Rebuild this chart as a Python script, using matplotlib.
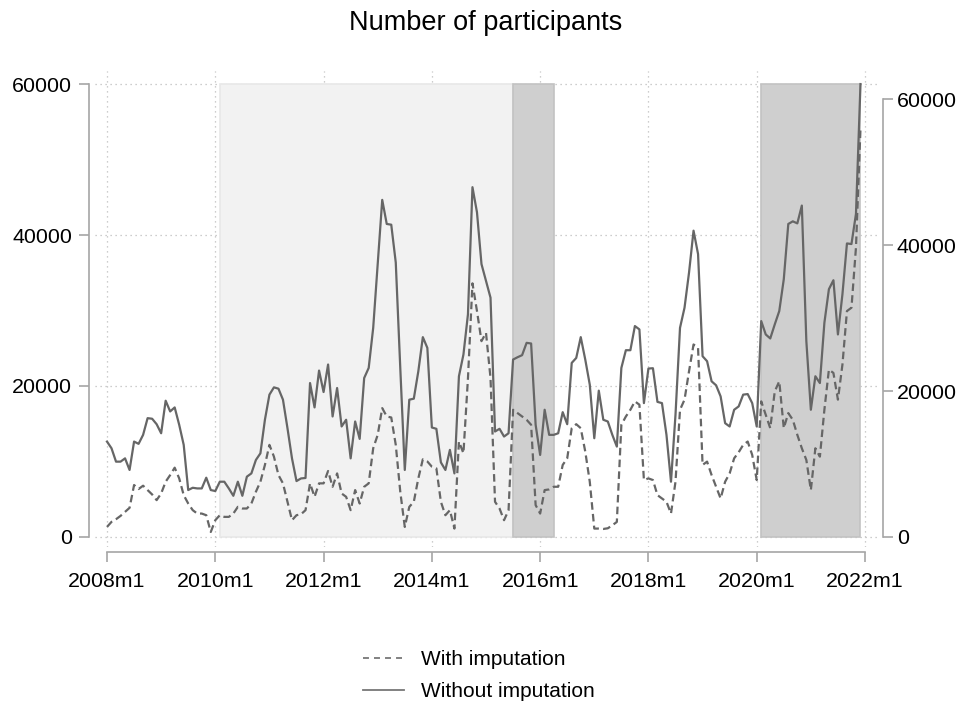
import numpy as np
import matplotlib
matplotlib.use("Agg")
import matplotlib.pyplot as plt
from matplotlib.lines import Line2D

plt.rcParams["font.family"] = ["Liberation Sans", "DejaVu Sans"]

# monthly series, 2008m1 .. 2021m12 (month index 0 = 2008m1)
with_imp = [
    1330, 2000, 2350, 2790, 3330, 3860, 6880, 6350, 6790, 6210, 5630, 4880,
    5760, 7320, 8200, 9180, 7760, 5540, 4430, 3550, 3100, 3100, 2880, 660,
    2220, 2880, 2660, 2660, 3100, 3990, 3770, 3770, 4430, 5990, 7320, 9540,
    12200, 10640, 8200, 7100, 4660, 2220, 2880, 3010, 3550, 7100, 5320, 7100,
    7100, 8740, 6650, 8420, 5760, 5320, 3550, 6210, 4430, 6650, 7100, 11750,
    13530, 17070, 15960, 15830, 12200, 5990, 1330, 3990, 4660, 7760, 10290, 10000,
    9310, 9090, 4660, 2880, 3550, 1110, 12640, 11090, 21000, 33600, 29930, 25940,
    27050, 21060, 4660, 3770, 2220, 3550, 16850, 16410, 15960, 15520, 14860, 4220,
    3100, 6210, 6300, 6650, 6650, 9540, 10420, 14410, 14940, 14410, 11310, 7320,
    1110, 1110, 1060, 1150, 1550, 1990, 14860, 15960, 16850, 17960, 17520, 7540,
    7760, 7540, 5540, 5100, 4660, 3100, 7320, 16850, 18190, 21950, 25500, 25060,
    9540, 9980, 8200, 6650, 5100, 7320, 8420, 10420, 11220, 12200, 12640, 10870,
    7540, 17960, 16190, 14410, 19290, 20620, 14410, 16410, 15520, 13530, 11750, 10200,
    6210, 11750, 10640, 16850, 22170, 21730, 18190, 22840, 29930, 30370, 38360, 54100,
]
# right axis
without_imp = [
    13070, 12150, 10320, 10320, 10770, 9180, 13070, 12760, 13990, 16280, 16200, 15450,
    14210, 18670, 17200, 17750, 15370, 12620, 6430, 6740, 6650, 6650, 8120, 6430,
    6290, 7570, 7570, 6650, 5640, 7570, 5640, 8260, 8710, 10550, 11460, 16060,
    19500, 20500, 20320, 18810, 14900, 10770, 7660, 8020, 8080, 21090, 17750, 22800,
    19860, 23630, 16510, 20410, 15140, 16060, 10770, 15820, 13440, 21780, 23160, 28660,
    37390, 46190, 42890, 42790, 37610, 23160, 9180, 18810, 18950, 22700, 27380, 25910,
    15000, 14820, 10220, 9180, 11930, 8710, 22020, 25000, 30510, 47930, 44490, 37390,
    35090, 32790, 14450, 14820, 13760, 14210, 24310, 24630, 24910, 26600, 26510, 15370,
    11240, 17430, 13990, 13990, 14210, 17100, 15450, 23850, 24530, 27380, 24310, 20870,
    13530, 20050, 16060, 15820, 13990, 12380, 23160, 25590, 25590, 28900, 28440, 18340,
    23080, 23120, 18510, 18340, 13990, 7570, 16750, 28660, 31410, 36230, 41970, 38760,
    24770, 24080, 21330, 20780, 19260, 15590, 15140, 17430, 17890, 19500, 19580, 18340,
    15140, 29580, 27750, 27200, 29130, 30960, 35320, 42890, 43250, 42970, 45410, 26830,
    17430, 22020, 21090, 29350, 33950, 35180, 27750, 33260, 40220, 40140, 44270, 62060,
]
months = np.arange(len(with_imp))

# shaded periods, in month index (start, end)
light_spans = [(25, 90)]
dark_spans = [(90, 99), (145, 167)]

xticks = [0, 24, 48, 72, 96, 120, 144, 168]
xticklabels = ["2008m1", "2010m1", "2012m1", "2014m1", "2016m1", "2018m1", "2020m1", "2022m1"]
yticks = [0, 20000, 40000, 60000]

LINE = "#666666"
AXC = "#a6a6a6"

fig = plt.figure(figsize=(9.66, 7.11), dpi=100)
ax = fig.add_axes([95 / 966, 164 / 711, 782 / 966, 476 / 711])
ax2 = ax.twinx()

ax.set_xlim(-2.66, 170.66)
ax.set_ylim(-1330, 61730)
ax2.set_ylim(-1376, 63850)

ax.set_axisbelow(True)
ax.grid(True, ls=(0, (1, 3)), color="#bdbdbd", lw=0.9)

for a, b in light_spans:
    ax.axvspan(a, b, ymin=1330 / 63060, ymax=(60000 + 1330) / 63060,
               facecolor="#f2f2f2", edgecolor="#e8e8e8", lw=1.2, zorder=1)
for a, b in dark_spans:
    ax.axvspan(a, b, ymin=1330 / 63060, ymax=(60000 + 1330) / 63060,
               facecolor="#cfcfcf", edgecolor="#c2c2c2", lw=1.2, zorder=1)

ax.plot(months, with_imp, color=LINE, lw=1.6, ls=(0, (3.4, 1.9)), zorder=3)
ax2.plot(months, without_imp, color=LINE, lw=1.6, zorder=3)

for s in ["top", "right"]:
    ax.spines[s].set_visible(False)
for s in ["top", "left", "bottom"]:
    ax2.spines[s].set_visible(False)

ax.spines["left"].set_position(("outward", 4.3))
ax.spines["left"].set_bounds(0, 60000)
ax.spines["bottom"].set_position(("outward", 3.6))
ax.spines["bottom"].set_bounds(0, 168)
ax2.spines["right"].set_position(("outward", 4.3))
ax2.spines["right"].set_bounds(0, 60000)
for sp in [ax.spines["left"], ax.spines["bottom"], ax2.spines["right"]]:
    sp.set_color(AXC)
    sp.set_linewidth(1.2)

ax.set_xticks(xticks)
ax.set_xticklabels(xticklabels)
ax.set_yticks(yticks)
ax.set_yticklabels([str(v) for v in yticks])
ax2.set_yticks(yticks)
ax2.set_yticklabels([str(v) for v in yticks])
ax.tick_params(axis="both", colors=AXC, labelcolor="black", labelsize=15.4,
               length=7, width=1.2)
ax.tick_params(axis="y", pad=5)
ax.tick_params(axis="x", pad=7.5)
ax2.tick_params(axis="y", colors=AXC, labelcolor="black", labelsize=15.4,
                length=7, width=1.2, pad=3)

fig.text(486 / 966, 1 - 23.5 / 711, "Number of participants", ha="center", va="center",
         fontsize=19.5)

handles = [
    Line2D([], [], color="#777777", lw=1.3, ls=(0, (3.3, 2.8))),
    Line2D([], [], color="#777777", lw=1.3),
]
fig.legend(handles, ["With imputation", "Without imputation"], loc="upper left",
           bbox_to_anchor=(363 / 966, 1 - 650 / 711), frameon=False, fontsize=15,
           handlelength=1.95, handletextpad=0.85, labelspacing=0.62,
           borderpad=0, borderaxespad=0)

fig.savefig("out.png", dpi=100)
